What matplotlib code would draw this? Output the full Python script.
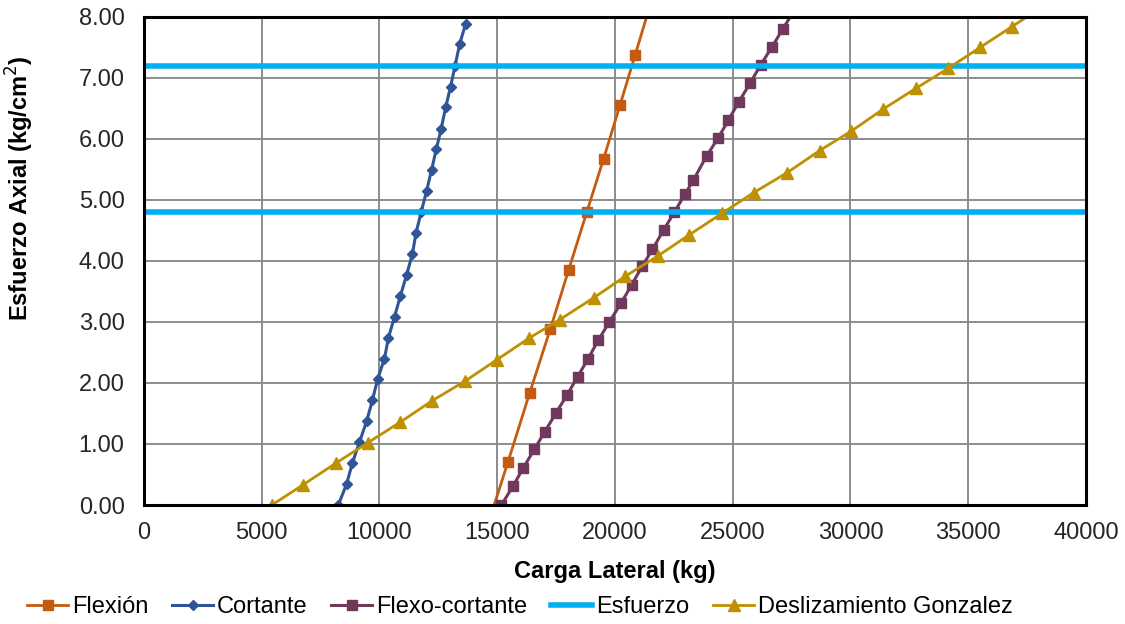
import matplotlib
matplotlib.use("Agg")
import matplotlib.pyplot as plt
import numpy as np

plt.rcParams['font.family'] = ['Liberation Sans', 'DejaVu Sans']

# Flexion
flex_x = [14870, 15460, 16380, 17250, 18030, 18810, 19520, 20210, 20850, 21460]
flex_y = [0.00, 0.71, 1.84, 2.88, 3.85, 4.81, 5.68, 6.55, 7.37, 8.15]

# Cortante
cort_x = [8250, 8600, 8850, 9150, 9450, 9700, 9920, 10210, 10380, 10640, 10890, 11150,
          11400, 11550, 11770, 12000, 12210, 12410, 12620, 12810, 13020, 13210, 13400, 13660]
cort_y = [0.00, 0.34, 0.69, 1.03, 1.37, 1.72, 2.06, 2.40, 2.74, 3.09, 3.43, 3.77,
          4.12, 4.46, 4.80, 5.15, 5.49, 5.83, 6.17, 6.52, 6.86, 7.20, 7.55, 7.89]

# Flexo-cortante
fc_x = [15180, 15670, 16110, 16570, 17020, 17480, 17960, 18410, 18860, 19290, 19760, 20260,
        20710, 21150, 21590, 22070, 22520, 22980, 23320, 23890, 24370, 24820, 25260, 25730,
        26180, 26670, 27120, 27600]
fc_y = [0.00, 0.31, 0.61, 0.91, 1.20, 1.50, 1.80, 2.10, 2.40, 2.70, 3.00, 3.31,
        3.61, 3.91, 4.19, 4.51, 4.80, 5.10, 5.32, 5.72, 6.01, 6.31, 6.61, 6.91,
        7.21, 7.51, 7.80, 8.10]

# Esfuerzo
esf_x = [0, 40000, np.nan, 0, 40000]
esf_y = [4.80, 4.80, np.nan, 7.20, 7.20]

# Deslizamiento Gonzalez
desl_x = [5430, 6750, 8160, 9500, 10890, 12240, 13630, 14980, 16330, 17660, 19110, 20440,
          21810, 23160, 24540, 25890, 27320, 28690, 30040, 31390, 32780, 34160, 35500, 36850, 38200]
desl_y = [0.00, 0.33, 0.69, 1.02, 1.36, 1.71, 2.03, 2.38, 2.73, 3.04, 3.40, 3.75,
          4.08, 4.43, 4.78, 5.12, 5.45, 5.81, 6.13, 6.49, 6.83, 7.16, 7.50, 7.84, 8.18]

fig = plt.figure(figsize=(11.25, 6.24), dpi=100)
ax = fig.add_axes([0.128, 0.1907, 0.8373, 0.7821])

ax.plot(flex_x, flex_y, color='#C55A11', lw=2.0, marker='s', ms=7.5,
        markevery=list(range(1, len(flex_x))), label='Flexión')
ax.plot(cort_x, cort_y, color='#2F5597', lw=2.2, marker='D', ms=5.5, label='Cortante')
ax.plot(fc_x, fc_y, color='#70385C', lw=2.2, marker='s', ms=7.5, label='Flexo-cortante')
ax.plot(esf_x, esf_y, color='#00B0F0', lw=4.0, label='Esfuerzo')
ax.plot(desl_x, desl_y, color='#BF9000', lw=2.0, marker='^', ms=8, label='Deslizamiento Gonzalez')

ax.set_xlim(0, 40000)
ax.set_ylim(0, 8)
ax.set_xticks(np.arange(0, 40001, 5000))
ax.set_yticks(np.arange(0, 8.01, 1))
ax.set_xticklabels([f'{v:d}' for v in range(0, 40001, 5000)])
ax.set_yticklabels([f'{v:.2f}' for v in np.arange(0, 8.01, 1)])
ax.tick_params(length=0, labelsize=17, colors='#262626')
ax.tick_params(axis='x', pad=12)
ax.tick_params(axis='y', pad=14)
ax.grid(True, color='#8C8C8C', lw=1.4)
ax.set_axisbelow(True)
for s in ax.spines.values():
    s.set_color('black')
    s.set_linewidth(2.2)

ax.set_xlabel('Carga Lateral (kg)', fontsize=17, fontweight='bold')
ax.set_ylabel('Esfuerzo Axial (kg/cm$^2$)', fontsize=17, fontweight='bold')
ax.xaxis.set_label_coords(0.5, -0.113)
ax.yaxis.set_label_coords(-0.115, 0.65)

fig.legend(loc='center left', bbox_to_anchor=(0.024, 0.027), ncol=5, frameon=False,
           fontsize=17, handlelength=1.74, handletextpad=0.17, columnspacing=1.0,
           borderaxespad=0, borderpad=0)

fig.savefig('out.png', dpi=100)
